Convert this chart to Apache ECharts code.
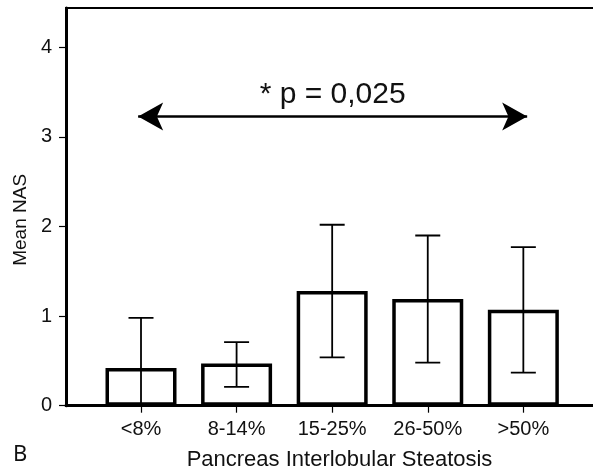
<!DOCTYPE html>
<html><head><meta charset="utf-8">
<script src="https://cdn.jsdelivr.net/npm/echarts@6/dist/echarts.min.js"></script>
<style>html,body{margin:0;padding:0;background:#fff}#c{width:593px;height:472px}</style>
</head><body><div id="c"></div>
<script>
var categories = ['<8%', '8-14%', '15-25%', '26-50%', '>50%'];
var meanNAS = [0.42, 0.47, 1.28, 1.19, 1.07];
var errLow = [-0.14, 0.21, 0.54, 0.48, 0.37];
var errHigh = [0.98, 0.71, 2.02, 1.90, 1.77];
var yTicks = [0, 1, 2, 3, 4];
var annotationY = 3.23;
var annotationX = [0.97, 5.04];
var annotationText = '* p = 0,025';

var positions = categories.map(function (c, i) { return i + 1; });
var barData = positions.map(function (p, i) { return [p, meanNAS[i]]; });
var errData = positions.map(function (p, i) { return [p, errLow[i], errHigh[i]]; });

var font = 'Liberation Sans, Arial, sans-serif';
var chart = echarts.init(document.getElementById('c'), null, {renderer: 'canvas'});
chart.setOption({
  animation: false,
  grid: {left: 66, top: 8, width: 547, height: 397.7, show: true, borderColor: '#000', borderWidth: 2,
    containLabel: false, outerBoundsMode: 'none'},
  xAxis: {
    type: 'value', min: 0.2153, max: 5.938,
    name: 'Pancreas Interlobular Steatosis', nameLocation: 'middle', nameGap: 43,
    nameTextStyle: {fontFamily: font, fontSize: 22, color: '#111'},
    splitLine: {show: false},
    axisLine: {show: true, onZero: false, lineStyle: {color: '#000', width: 3}},
    axisTick: {show: true, length: 7, lineStyle: {color: '#000', width: 1.2}, customValues: positions},
    axisLabel: {show: true, margin: 14, fontFamily: font, fontSize: 20, color: '#111', customValues: positions,
      formatter: function (v) { return categories[Math.round(v) - 1] || ''; }}
  },
  yAxis: {
    type: 'value', min: 0, max: 4.44, interval: 1,
    name: 'Mean NAS', nameLocation: 'middle', nameGap: 33,
    nameTextStyle: {fontFamily: font, fontSize: 19, color: '#111', padding: [0, 26, 0, 0]},
    splitLine: {show: false},
    axisLine: {show: true, lineStyle: {color: '#000', width: 3}},
    axisTick: {show: true, length: 7, lineStyle: {color: '#000', width: 1.2}, customValues: yTicks},
    axisLabel: {margin: 14, fontFamily: font, fontSize: 20, color: '#111', customValues: yTicks}
  },
  series: [
    {
      type: 'bar', data: barData, barWidth: 71,
      itemStyle: {color: '#fff', borderColor: '#000', borderWidth: 3.5},
      markLine: {
        silent: true, symbol: ['arrow', 'arrow'], symbolSize: [21, 25],
        lineStyle: {color: '#000', width: 2.5, type: 'solid'},
        label: {show: true, position: 'insideMiddleTop', distance: 7, formatter: annotationText,
          fontFamily: font, fontSize: 30, color: '#111'},
        data: [[{coord: [annotationX[0], annotationY]}, {coord: [annotationX[1], annotationY]}]]
      }
    },
    {
      type: 'custom', data: errData, clip: true, z: 5,
      renderItem: function (params, api) {
        var x = api.value(0);
        var lo = api.coord([x, api.value(1)]);
        var hi = api.coord([x, api.value(2)]);
        var half = 12.5;
        var st = {stroke: '#000', lineWidth: 1.8};
        var base = api.coord([x, 0]);
        var children = [
          {type: 'line', shape: {x1: hi[0], y1: hi[1], x2: lo[0], y2: Math.min(lo[1], base[1])}, style: st},
          {type: 'line', shape: {x1: hi[0] - half, y1: hi[1], x2: hi[0] + half, y2: hi[1]}, style: st}
        ];
        if (api.value(1) >= 0) {
          children.push({type: 'line', shape: {x1: lo[0] - half, y1: lo[1], x2: lo[0] + half, y2: lo[1]}, style: st});
        }
        return {type: 'group', children: children};
      }
    }
  ],
  graphic: [{type: 'text', left: 13, top: 444, style: {text: 'B', font: '22px "Noto Sans", sans-serif', fill: '#111'}}]
});
</script></body></html>
